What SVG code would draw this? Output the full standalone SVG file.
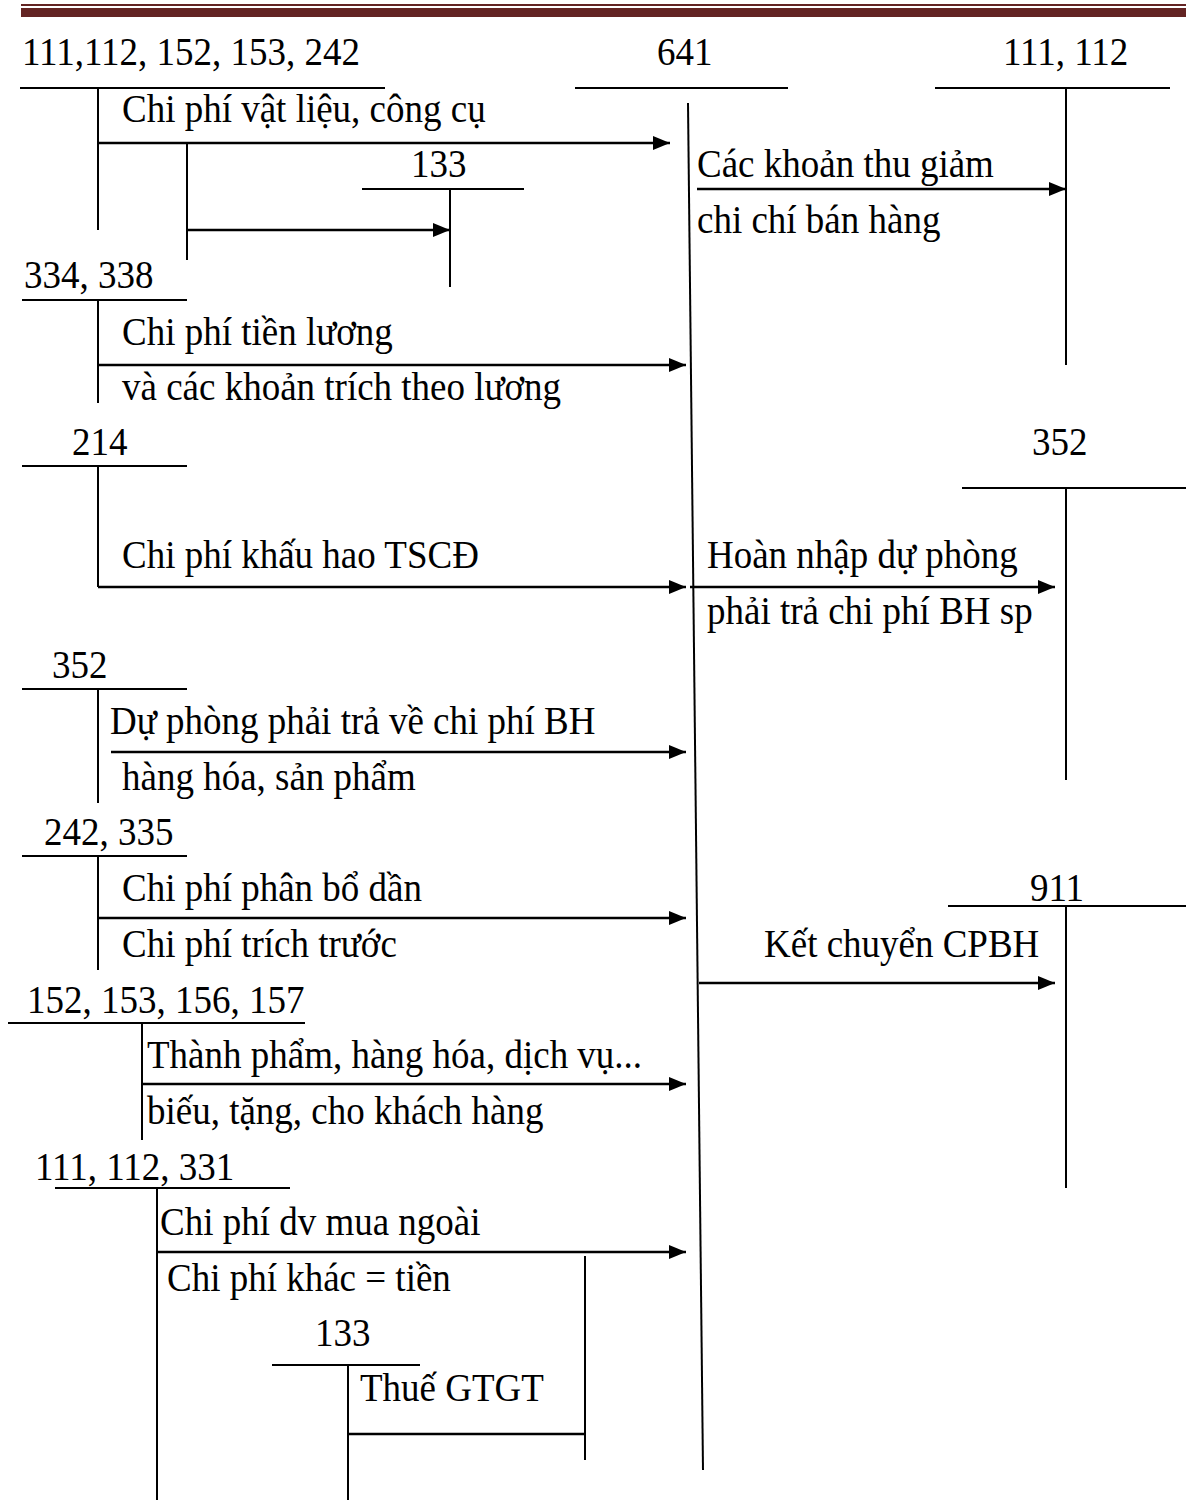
<svg xmlns="http://www.w3.org/2000/svg" width="1186" height="1503" viewBox="0 0 1186 1503">
<style>
text{font-family:"Liberation Serif","Times New Roman",serif;font-size:40px;fill:#000}
.t{stroke:#000;stroke-width:2;fill:none}
.a{stroke:#000;stroke-width:2.5;fill:none;marker-end:url(#ah)}
.p{stroke:#000;stroke-width:2.5;fill:none}
</style>
<defs>
<marker id="ah" markerUnits="userSpaceOnUse" markerWidth="18" markerHeight="14" refX="17" refY="7" orient="auto">
<path d="M0,0 L17,7 L0,14 z" fill="#000"/>
</marker>
</defs>
<g id="header">
<rect x="21" y="4" width="1165" height="2" fill="#632423"/>
<rect x="21" y="8" width="1165" height="9" fill="#632423"/>
</g>
<g id="acc-111-112-152-153-242">
<text transform="translate(22,65) scale(0.925,1)">111,112, 152, 153, 242</text>
<line class="t" x1="20" y1="88" x2="385" y2="88"/>
<line class="t" x1="98" y1="88" x2="98" y2="230"/>
<line class="t" x1="187" y1="143" x2="187" y2="260"/>
</g>
<g id="acc-133-top">
<text transform="translate(411,177) scale(0.925,1)">133</text>
<line class="t" x1="362" y1="189" x2="524" y2="189"/>
<line class="t" x1="450" y1="189" x2="450" y2="287"/>
</g>
<g id="acc-641">
<text transform="translate(657,65) scale(0.925,1)">641</text>
<line class="t" x1="575" y1="88" x2="788" y2="88"/>
<line class="t" x1="688" y1="103" x2="703" y2="1470"/>
</g>
<g id="acc-111-112-right">
<text transform="translate(1003,65) scale(0.925,1)">111, 112</text>
<line class="t" x1="935" y1="88" x2="1170" y2="88"/>
<line class="t" x1="1066" y1="88" x2="1066" y2="365"/>
</g>
<g id="acc-334-338">
<text transform="translate(24,288) scale(0.925,1)">334, 338</text>
<line class="t" x1="22" y1="300" x2="187" y2="300"/>
<line class="t" x1="98" y1="300" x2="98" y2="403"/>
</g>
<g id="acc-214">
<text transform="translate(72,455) scale(0.925,1)">214</text>
<line class="t" x1="22" y1="466" x2="187" y2="466"/>
<line class="t" x1="98" y1="466" x2="98" y2="587"/>
</g>
<g id="acc-352-right">
<text transform="translate(1032,455) scale(0.925,1)">352</text>
<line class="t" x1="962" y1="488" x2="1186" y2="488"/>
<line class="t" x1="1066" y1="488" x2="1066" y2="780"/>
</g>
<g id="acc-352-left">
<text transform="translate(52,678) scale(0.925,1)">352</text>
<line class="t" x1="22" y1="689" x2="187" y2="689"/>
<line class="t" x1="98" y1="689" x2="98" y2="803"/>
</g>
<g id="acc-242-335">
<text transform="translate(44,845) scale(0.925,1)">242, 335</text>
<line class="t" x1="22" y1="856" x2="187" y2="856"/>
<line class="t" x1="98" y1="856" x2="98" y2="970"/>
</g>
<g id="acc-911">
<text transform="translate(1030,901) scale(0.925,1)">911</text>
<line class="t" x1="948" y1="906" x2="1186" y2="906"/>
<line class="t" x1="1066" y1="906" x2="1066" y2="1188"/>
</g>
<g id="acc-152-153-156-157">
<text transform="translate(27,1013) scale(0.925,1)">152, 153, 156, 157</text>
<line class="t" x1="8" y1="1023" x2="305" y2="1023"/>
<line class="t" x1="142" y1="1023" x2="142" y2="1140"/>
</g>
<g id="acc-111-112-331">
<text transform="translate(35,1180) scale(0.925,1)">111, 112, 331</text>
<line class="t" x1="55" y1="1188" x2="290" y2="1188"/>
<line class="t" x1="157" y1="1188" x2="157" y2="1500"/>
<line class="t" x1="585" y1="1256" x2="585" y2="1460"/>
</g>
<g id="acc-133-bottom">
<text transform="translate(315,1346) scale(0.925,1)">133</text>
<line class="t" x1="272" y1="1365" x2="420" y2="1365"/>
<line class="t" x1="348" y1="1365" x2="348" y2="1500"/>
</g>
<g id="connectors">
<line class="a" x1="98" y1="143" x2="670" y2="143"/>
<line class="a" x1="187" y1="230" x2="450" y2="230"/>
<line class="a" x1="697" y1="189" x2="1066" y2="189"/>
<line class="a" x1="98" y1="365" x2="686" y2="365"/>
<line class="a" x1="98" y1="587" x2="686" y2="587"/>
<line class="a" x1="690" y1="587" x2="1055" y2="587"/>
<line class="a" x1="111" y1="752" x2="686" y2="752"/>
<line class="a" x1="98" y1="918" x2="686" y2="918"/>
<line class="a" x1="699" y1="983" x2="1055" y2="983"/>
<line class="a" x1="142" y1="1084" x2="686" y2="1084"/>
<line class="a" x1="157" y1="1252" x2="686" y2="1252"/>
<line class="p" x1="348" y1="1434" x2="585" y2="1434"/>
</g>
<g id="labels">
<text transform="translate(122,122) scale(0.925,1)">Chi phí vật liệu, công cụ</text>
<text transform="translate(697,177) scale(0.925,1)">Các khoản thu giảm</text>
<text transform="translate(697,233) scale(0.925,1)">chi chí bán hàng</text>
<text transform="translate(122,345) scale(0.925,1)">Chi phí tiền lương</text>
<text transform="translate(122,400) scale(0.925,1)">và các khoản trích theo lương</text>
<text transform="translate(122,568) scale(0.925,1)">Chi phí khấu hao TSCĐ</text>
<text transform="translate(707,568) scale(0.925,1)">Hoàn nhập dự phòng</text>
<text transform="translate(707,624) scale(0.925,1)">phải trả chi phí BH sp</text>
<text transform="translate(110,734) scale(0.925,1)">Dự phòng phải trả về chi phí BH</text>
<text transform="translate(122,790) scale(0.925,1)">hàng hóa, sản phẩm</text>
<text transform="translate(122,901) scale(0.925,1)">Chi phí phân bổ dần</text>
<text transform="translate(122,957) scale(0.925,1)">Chi phí trích trước</text>
<text transform="translate(764,957) scale(0.925,1)">Kết chuyển CPBH</text>
<text transform="translate(147,1068) scale(0.925,1)">Thành phẩm, hàng hóa, dịch vụ...</text>
<text transform="translate(147,1124) scale(0.925,1)">biếu, tặng, cho khách hàng</text>
<text transform="translate(160,1235) scale(0.925,1)">Chi phí dv mua ngoài</text>
<text transform="translate(167,1291) scale(0.925,1)">Chi phí khác = tiền</text>
<text transform="translate(360,1401) scale(0.925,1)">Thuế GTGT</text>
</g>
</svg>
